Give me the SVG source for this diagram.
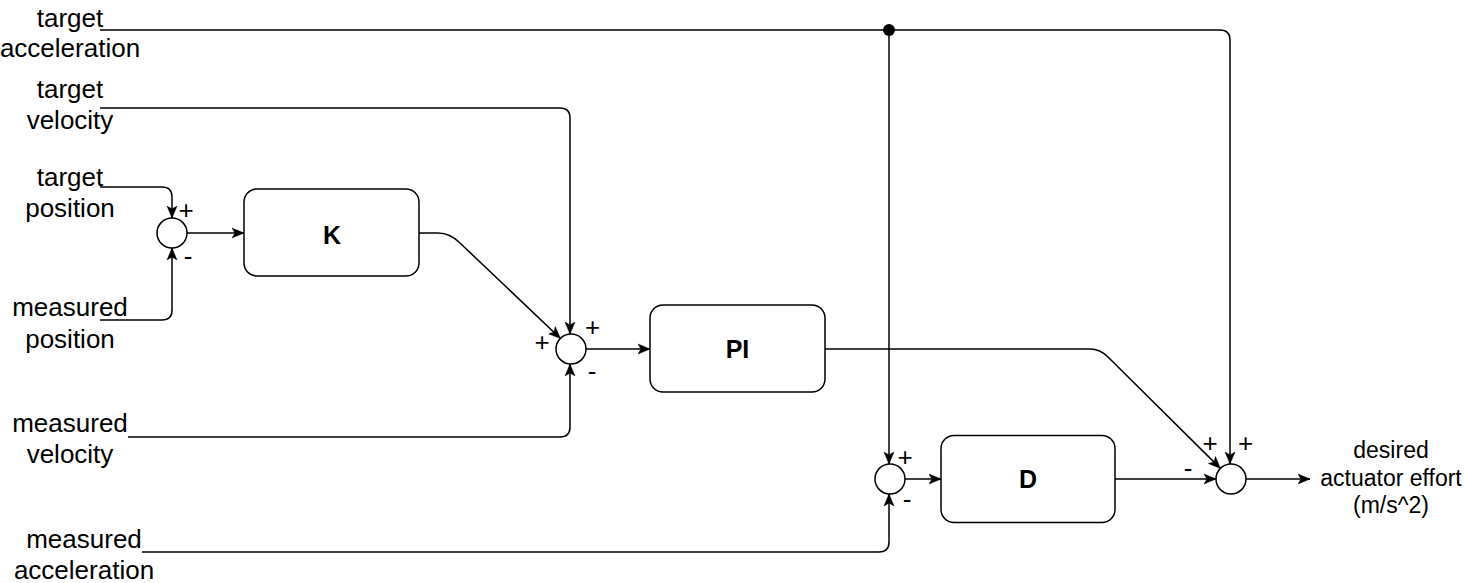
<svg xmlns="http://www.w3.org/2000/svg" width="1464" height="583" viewBox="0 0 1464 583">
<defs>
<marker id="arr" viewBox="0 0 12 12" refX="12" refY="6" markerWidth="12" markerHeight="12" markerUnits="userSpaceOnUse" orient="auto">
<path d="M0,1 L12,6 L0,11 L3,6 Z" fill="#000" stroke="#000" stroke-width="0.5"/>
</marker>
<style>
.lbl{font-family:"Liberation Sans",Arial,sans-serif;font-size:26px;fill:#000;text-anchor:middle}
.rlbl{font-family:"Liberation Sans",Arial,sans-serif;font-size:23px;fill:#000;text-anchor:middle}
.blk{fill:#fff;stroke:#000;stroke-width:1.5}
.blkt{font-family:"Liberation Sans",Arial,sans-serif;font-size:25px;font-weight:bold;fill:#000;text-anchor:middle}
.sum{fill:#fff;stroke:#000;stroke-width:1.5}
.sgn{font-family:"Liberation Sans",Arial,sans-serif;font-size:26px;fill:#000;text-anchor:middle}
.c{fill:none;stroke:#000;stroke-width:1.5}
.ca{fill:none;stroke:#000;stroke-width:1.5;marker-end:url(#arr)}
</style>
</defs>
<rect width="1464" height="583" fill="#fff"/>
<g id="connectors">
<path class="ca" d="M100,30 H1220 Q1230,30 1230,40 V464"/>
<path class="ca" d="M889,30 V464"/>
<circle cx="889" cy="30" r="6" fill="#000"/>
<path class="ca" d="M100,108 H560 Q570,108 570,118 V334"/>
<path class="ca" d="M100,187 H162 Q172,187 172,197 V218"/>
<path class="ca" d="M100,320 H162 Q172,320 172,310 V248"/>
<path class="ca" d="M187,233 H244"/>
<path class="ca" d="M419,233 H438 Q450,233 460,243 L560.5,338.5"/>
<path class="ca" d="M128,437 H560 Q570,437 570,427 V364"/>
<path class="ca" d="M586,349 H650"/>
<path class="ca" d="M825,349 H1090 Q1100,349 1108,357 L1220.4,468.4"/>
<path class="ca" d="M905,479 H941"/>
<path class="ca" d="M142,552 H879 Q889,552 889,542 V494"/>
<path class="ca" d="M1115,479 H1216"/>
<path class="ca" d="M1246,479 H1310"/>
</g>
<g id="in-target-acceleration">
<text class="lbl" x="70" y="27">target</text>
<text class="lbl" x="70" y="57">acceleration</text>
</g>
<g id="in-target-velocity">
<text class="lbl" x="70" y="98">target</text>
<text class="lbl" x="70" y="129">velocity</text>
</g>
<g id="in-target-position">
<text class="lbl" x="70" y="186">target</text>
<text class="lbl" x="70" y="217">position</text>
</g>
<g id="in-measured-position">
<text class="lbl" x="70" y="316">measured</text>
<text class="lbl" x="70" y="348">position</text>
</g>
<g id="in-measured-velocity">
<text class="lbl" x="70" y="432">measured</text>
<text class="lbl" x="70" y="463">velocity</text>
</g>
<g id="in-measured-acceleration">
<text class="lbl" x="84" y="548">measured</text>
<text class="lbl" x="84" y="579">acceleration</text>
</g>
<g id="sum1">
<circle class="sum" cx="172" cy="233" r="15"/>
<text class="sgn" x="186" y="219">+</text>
<text class="sgn" x="188" y="265">-</text>
</g>
<g id="K">
<rect class="blk" x="244" y="189" width="175" height="87" rx="13"/>
<text class="blkt" x="332" y="244">K</text>
</g>
<g id="sum2">
<circle class="sum" cx="571" cy="349" r="15"/>
<text class="sgn" x="592.5" y="336">+</text>
<text class="sgn" x="542" y="351">+</text>
<text class="sgn" x="592" y="380">-</text>
</g>
<g id="PI">
<rect class="blk" x="650" y="305" width="175" height="87" rx="13"/>
<text class="blkt" x="737.5" y="358">PI</text>
</g>
<g id="sum3">
<circle class="sum" cx="890" cy="479" r="15"/>
<text class="sgn" x="905" y="466">+</text>
<text class="sgn" x="907" y="508">-</text>
</g>
<g id="D">
<rect class="blk" x="941" y="435.5" width="174" height="87" rx="13"/>
<text class="blkt" x="1028" y="488">D</text>
</g>
<g id="sum4">
<circle class="sum" cx="1231" cy="479" r="15"/>
<text class="sgn" x="1210" y="452">+</text>
<text class="sgn" x="1245.5" y="452">+</text>
<text class="sgn" x="1188" y="477">-</text>
</g>
<g id="out-desired-effort">
<text class="rlbl" x="1391" y="458">desired</text>
<text class="rlbl" x="1391" y="486">actuator effort</text>
<text class="rlbl" x="1391" y="513">(m/s^2)</text>
</g>
</svg>
